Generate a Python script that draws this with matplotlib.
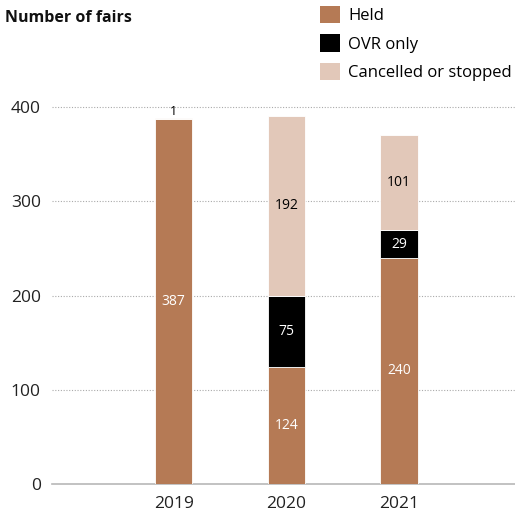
import matplotlib.pyplot as plt
from matplotlib.patches import Patch

# ---------------- Data ----------------
years = ["2019", "2020", "2021"]
held = [387, 124, 240]
ovr_only = [0, 75, 29]
cancelled = [1, 192, 101]

held_color = "#b57a55"
ovr_color = "#000000"
canc_color = "#e2c8b9"

plt.rcParams["font.family"] = ["Open Sans", "DejaVu Sans"]

fig = plt.figure(figsize=(5.15, 5.12), dpi=100)
ax = fig.add_axes([52 / 515, 28 / 512, 463 / 515, 386.4 / 512])

x = list(range(len(years)))
w = 0.33
ax.bar(x, held, w, color=held_color, edgecolor="white", linewidth=0.6, zorder=3)
ax.bar(x, ovr_only, w, bottom=held, color=ovr_color, edgecolor="white", linewidth=0.6, zorder=3)
bottom3 = [h + o for h, o in zip(held, ovr_only)]
ax.bar(x, cancelled, w, bottom=bottom3, color=canc_color, edgecolor="white", linewidth=0.6, zorder=3)

# segment labels
for i in range(len(years)):
    ax.text(x[i], held[i] / 2, str(held[i]), ha="center", va="center",
            color="white", fontsize=10, zorder=4)
    if ovr_only[i] > 0:
        ax.text(x[i], held[i] + ovr_only[i] / 2, str(ovr_only[i]), ha="center",
                va="center", color="white", fontsize=10, zorder=4)
    if cancelled[i] > 10:
        ax.text(x[i], bottom3[i] + cancelled[i] / 2, str(cancelled[i]), ha="center",
                va="center", color="black", fontsize=10, zorder=4)
    else:
        ax.text(x[i], bottom3[i] + cancelled[i], str(cancelled[i]), ha="center",
                va="bottom", color="black", fontsize=9, zorder=4)

ax.set_xlim(-1.08, 3.03)
ax.set_ylim(0, 410)
ax.set_xticks(x)
ax.set_xticklabels(years, fontsize=12.5, color="#222222")
ax.set_yticks([0, 100, 200, 300, 400])
ax.set_yticklabels(["0", "100", "200", "300", "400"], fontsize=12.5, color="#222222")
ax.tick_params(axis="both", length=0, pad=8)
ax.tick_params(axis="x", pad=9)

for s in ["top", "right", "left"]:
    ax.spines[s].set_visible(False)
ax.spines["bottom"].set_color("#b8b8b8")
ax.spines["bottom"].set_linewidth(1.2)

ax.yaxis.grid(True, linestyle=(0, (1, 1.5)), color="#aaaaaa", linewidth=0.8, zorder=0)
ax.set_axisbelow(True)

fig.text(5 / 515, 1 - 18 / 512, "Number of fairs", fontsize=11.5, fontweight="bold",
         ha="left", va="center", color="#111111")

handles = [Patch(facecolor=held_color), Patch(facecolor=ovr_color), Patch(facecolor=canc_color)]
fig.legend(handles, ["Held", "OVR only", "Cancelled or stopped"],
           loc="upper left", bbox_to_anchor=(320 / 515, 1 - 6 / 512), frameon=False,
           fontsize=12, handlelength=1.2, handleheight=1.2, handletextpad=0.5,
           labelspacing=0.62, borderaxespad=0, borderpad=0)

fig.savefig("out.png", dpi=100)
